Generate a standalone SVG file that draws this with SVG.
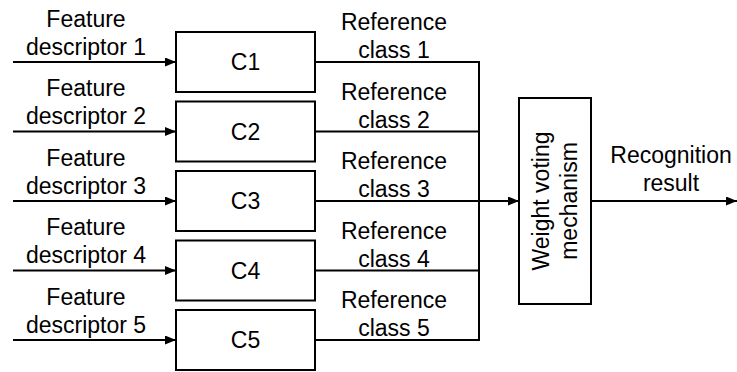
<svg xmlns="http://www.w3.org/2000/svg" width="737" height="372" viewBox="0 0 737 372">
<style>
text{font-family:"Liberation Sans",Arial,sans-serif;font-size:23px;fill:#000;text-anchor:middle}
.box{fill:#fff;stroke:#000;stroke-width:2}
.ln{fill:none;stroke:#000;stroke-width:2}
</style>
<defs>
<marker id="ah" markerWidth="11" markerHeight="9" refX="11" refY="4.5" orient="auto" markerUnits="userSpaceOnUse">
<path d="M0,0 L11,4.5 L0,9 Z" fill="#000"/>
</marker>
</defs>
<g id="connectors">
<line class="ln" x1="13" y1="62" x2="176" y2="62" marker-end="url(#ah)"/>
<line class="ln" x1="13" y1="131.5" x2="176" y2="131.5" marker-end="url(#ah)"/>
<line class="ln" x1="13" y1="201" x2="176" y2="201" marker-end="url(#ah)"/>
<line class="ln" x1="13" y1="270.5" x2="176" y2="270.5" marker-end="url(#ah)"/>
<line class="ln" x1="13" y1="340" x2="176" y2="340" marker-end="url(#ah)"/>
<line class="ln" x1="315" y1="62" x2="480" y2="62"/>
<line class="ln" x1="315" y1="131.5" x2="480" y2="131.5"/>
<line class="ln" x1="315" y1="270.5" x2="480" y2="270.5"/>
<line class="ln" x1="315" y1="340" x2="480" y2="340"/>
<line class="ln" x1="479" y1="61" x2="479" y2="341"/>
<line class="ln" x1="315" y1="201" x2="519" y2="201" marker-end="url(#ah)"/>
<line class="ln" x1="591" y1="201" x2="737" y2="201" marker-end="url(#ah)"/>
</g>
<g id="labels">
<text x="86" y="26.5">Feature</text><text x="86" y="54.5">descriptor 1</text>
<text x="86" y="96">Feature</text><text x="86" y="124">descriptor 2</text>
<text x="86" y="165.5">Feature</text><text x="86" y="193.5">descriptor 3</text>
<text x="86" y="235">Feature</text><text x="86" y="263">descriptor 4</text>
<text x="86" y="304.5">Feature</text><text x="86" y="332.5">descriptor 5</text>
<text x="394" y="30">Reference</text><text x="394" y="58">class 1</text>
<text x="394" y="99.5">Reference</text><text x="394" y="127.5">class 2</text>
<text x="394" y="169">Reference</text><text x="394" y="197">class 3</text>
<text x="394" y="238.5">Reference</text><text x="394" y="266.5">class 4</text>
<text x="394" y="308">Reference</text><text x="394" y="336">class 5</text>
<text x="671" y="163">Recognition</text><text x="671" y="191">result</text>
</g>
<g id="C1"><rect class="box" x="176" y="32" width="139" height="60"/><text x="245.5" y="70">C1</text></g>
<g id="C2"><rect class="box" x="176" y="101.5" width="139" height="60"/><text x="245.5" y="139.5">C2</text></g>
<g id="C3"><rect class="box" x="176" y="171" width="139" height="60"/><text x="245.5" y="209">C3</text></g>
<g id="C4"><rect class="box" x="176" y="240.5" width="139" height="60"/><text x="245.5" y="278.5">C4</text></g>
<g id="C5"><rect class="box" x="176" y="310" width="139" height="60"/><text x="245.5" y="348">C5</text></g>
<g id="weight"><rect class="box" x="519" y="98" width="72" height="206"/>
<g transform="translate(555,201) rotate(-90)"><text x="0" y="-6">Weight voting</text><text x="0" y="22">mechanism</text></g>
</g>
</svg>
